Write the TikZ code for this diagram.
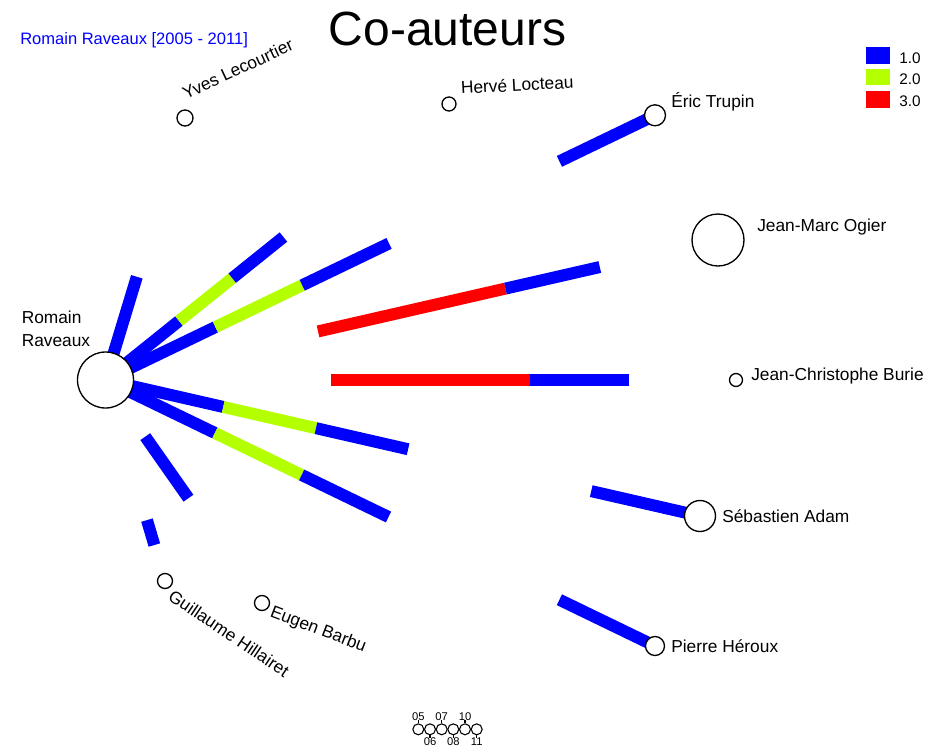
\documentclass[tikz,border=0pt]{standalone}
\usepackage{fontspec}
\setmainfont{Liberation Sans}
\usetikzlibrary{calc,backgrounds}
\definecolor{barblue}{RGB}{0,0,255}
\definecolor{barlime}{RGB}{180,255,0}
\definecolor{barred}{RGB}{255,0,0}
\newcommand{\lblfont}{\fontsize{13}{17}\selectfont}

\begin{document}
\begin{tikzpicture}[x=0.75pt,y=-0.75pt,
    author/.style={circle, draw, fill=white, line width=1pt, inner sep=0pt},
    lbl/.style={font=\lblfont, inner sep=0pt, anchor=base west},
    bar/.style={line width=9pt, line cap=butt},
    key/.style={inner sep=0pt, minimum width=17.5pt, minimum height=12.5pt, anchor=north west},
    year/.style={circle, draw, line width=0.8pt, inner sep=0pt, minimum size=8.2pt},
    yearlbl/.style={font=\fontsize{8.4}{10}\selectfont, inner sep=0pt}]
    \useasboundingbox (0,0) rectangle (945,754);

    % title, header and key
    \node [font=\fontsize{36}{40}\selectfont, anchor=base] (title) at (447.5,45) {Co-auteurs};
    \node [lbl, font=\fontsize{12.4}{14}\selectfont, text=barblue] (head) at (20,44) {Romain Raveaux [2005 - 2011]};
    \node [key, fill=barblue] (k1) at (866,47) {};
    \node [key, fill=barlime] (k2) at (866,68.5) {};
    \node [key, fill=barred] (k3) at (866,91) {};
    \node [lbl, font=\fontsize{11.5}{13}\selectfont] (k1t) at (899,63) {1.0};
    \node [lbl, font=\fontsize{11.5}{13}\selectfont] (k2t) at (899,84.8) {2.0};
    \node [lbl, font=\fontsize{11.5}{13}\selectfont] (k3t) at (899,106.5) {3.0};

    % authors
    \node [author, minimum size=42pt] (rr) at (105.5,380) {};
    \node [author, minimum size=12pt] (yl) at (185,118) {};
    \node [author, minimum size=10.5pt] (hl) at (449,104) {};
    \node [author, minimum size=15.75pt] (et) at (655,115.3) {};
    \node [author, minimum size=39pt] (jo) at (718,240) {};
    \node [author, minimum size=9.75pt] (jb) at (736,380) {};
    \node [author, minimum size=23.25pt] (sa) at (700,516) {};
    \node [author, minimum size=14.25pt] (ph) at (655,646) {};
    \node [author, minimum size=11.25pt] (eb) at (262,603) {};
    \node [author, minimum size=11.25pt] (gh) at (165,581) {};

    \node [lbl, align=left] (rrt) at (21.5,346) {Romain\\Raveaux};
    \node [lbl, rotate=25] (ylt) at (186,100) {Yves Lecourtier};
    \node [lbl, rotate=3] (hlt) at (461,94) {Hervé Locteau};
    \node [lbl] (ett) at (671,107) {Éric Trupin};
    \node [lbl] (jot) at (757,231) {Jean-Marc Ogier};
    \node [lbl] (jbt) at (751,380) {Jean-Christophe Burie};
    \node [lbl] (sat) at (722,522) {Sébastien Adam};
    \node [lbl] (pht) at (671,652.5) {Pierre Héroux};
    \node [lbl, rotate=-21] (ebt) at (269,616) {Eugen Barbu};
    \node [lbl, rotate=-34] (ght) at (167,599) {Guillaume Hillairet};

    % years
    \node [year] (c05) at (418.3,729.3) {};
    \node [year] (c06) at (430,729.3) {};
    \node [year] (c07) at (441.7,729.3) {};
    \node [year] (c08) at (453.3,729.3) {};
    \node [year] (c10) at (465,729.3) {};
    \node [year] (c11) at (476.7,729.3) {};
    \node [yearlbl, anchor=base] (l05) at (418.3,720) {05};
    \node [yearlbl, anchor=base] (l07) at (441.7,720) {07};
    \node [yearlbl, anchor=base] (l10) at (465,720) {10};
    \node [yearlbl, anchor=north] (l06) at (430,737.5) {06};
    \node [yearlbl, anchor=north] (l08) at (453.3,737.5) {08};
    \node [yearlbl, anchor=north] (l11) at (476.7,737.5) {11};
    \draw [line width=0.8pt] (l05) -- (c05);
    \draw [line width=0.8pt] (l07) -- (c07);
    \draw [line width=0.8pt] (l10) -- (c10);
    \draw [line width=0.8pt] (l06) -- (c06);
    \draw [line width=0.8pt] (l08) -- (c08);
    \draw [line width=0.8pt] (l11) -- (c11);

    \begin{pgfonlayer}{background}
      \draw [bar, barblue] (rr.center) -- ($(rr)!.394!(yl)$);
      \draw [bar, barblue] (rr.center) -- ($(rr)!.214!(hl)$);
      \draw [bar, barlime] ($(rr)!.214!(hl)$) -- ($(rr)!.369!(hl)$);
      \draw [bar, barblue] ($(rr)!.369!(hl)$) -- ($(rr)!.518!(hl)$);
      \draw [bar, barblue] (rr.center) -- ($(rr)!.2!(et)$);
      \draw [bar, barlime] ($(rr)!.2!(et)$) -- ($(rr)!.358!(et)$);
      \draw [bar, barblue] ($(rr)!.358!(et)$) -- ($(rr)!.516!(et)$);
      \draw [bar, barblue] ($(rr)!.826!(et)$) -- (et.center);
      \draw [bar, barred] ($(rr)!.347!(jo)$) -- ($(rr)!.653!(jo)$);
      \draw [bar, barblue] ($(rr)!.653!(jo)$) -- ($(rr)!.807!(jo)$);
      \draw [bar, barred] ($(rr)!.358!(jb)$) -- ($(rr)!.673!(jb)$);
      \draw [bar, barblue] ($(rr)!.673!(jb)$) -- ($(rr)!.83!(jb)$);
      \draw [bar, barblue] (rr.center) -- ($(rr)!.198!(sa)$);
      \draw [bar, barlime] ($(rr)!.198!(sa)$) -- ($(rr)!.354!(sa)$);
      \draw [bar, barblue] ($(rr)!.354!(sa)$) -- ($(rr)!.509!(sa)$);
      \draw [bar, barblue] ($(rr)!.817!(sa)$) -- (sa.center);
      \draw [bar, barblue] (rr.center) -- ($(rr)!.199!(ph)$);
      \draw [bar, barlime] ($(rr)!.199!(ph)$) -- ($(rr)!.357!(ph)$);
      \draw [bar, barblue] ($(rr)!.357!(ph)$) -- ($(rr)!.515!(ph)$);
      \draw [bar, barblue] ($(rr)!.826!(ph)$) -- (ph.center);
      \draw [bar, barblue] ($(rr)!.254!(eb)$) -- ($(rr)!.53!(eb)$);
      \draw [bar, barblue] ($(rr)!.697!(gh)$) -- ($(rr)!.821!(gh)$);
    \end{pgfonlayer}
\end{tikzpicture}
\end{document}
